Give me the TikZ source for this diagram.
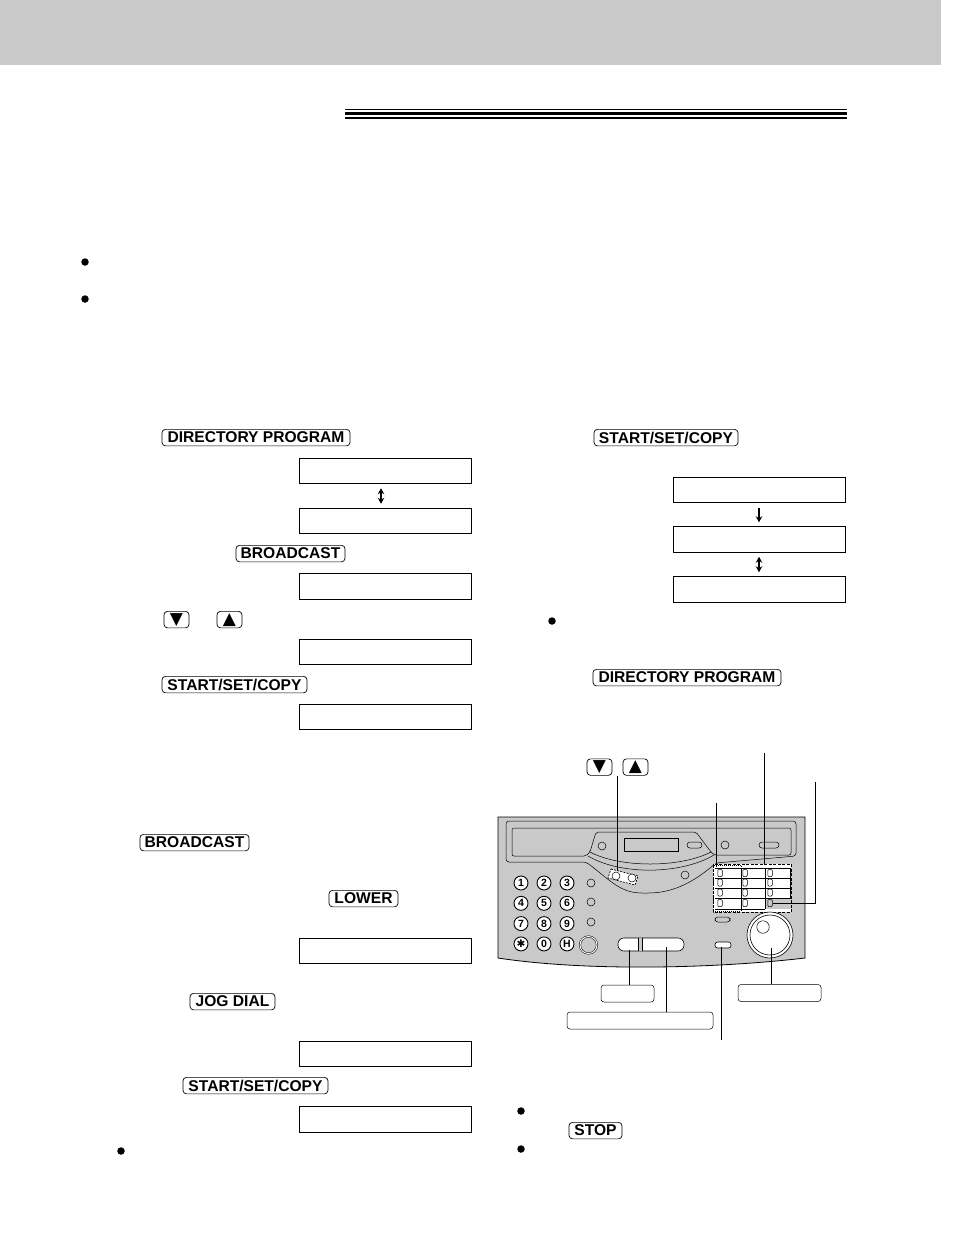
\documentclass[tikz,border=0pt]{standalone}
\usepackage{fontspec}
\setmainfont{Liberation Sans}
\newfontfamily\symfont{DejaVu Sans}
\usetikzlibrary{arrows.meta}
\definecolor{panelgray}{gray}{0.79}
\tikzset{
   keycap/.style={draw, rounded corners=3.5pt, line width=0.7pt, fill=white, inner sep=0pt, minimum height=16.5pt, yshift=-0.6pt,
      font=\fontsize{15.6}{16}\selectfont\bfseries},
   arrowcap/.style={keycap, minimum width=25pt, font=\fontsize{17}{17}\selectfont\symfont},
   lcd/.style={draw, line width=1pt, fill=white, minimum width=172pt, minimum height=25.5pt, inner sep=0pt},
   labelbox/.style={draw, rounded corners=3pt, line width=0.5pt, fill=white, inner sep=0pt, minimum height=17pt},
   bulletdot/.style={circle, fill=black, inner sep=0pt, minimum size=7.5pt},
   dialkey/.style={circle, draw, fill=white, line width=0.9pt, inner sep=0pt, minimum size=14pt,
      font=\fontsize{10.5}{10.5}\selectfont\bfseries},
   sidekey/.style={circle, draw, line width=0.5pt, inner sep=0pt, minimum size=8pt},
   cellkey/.style={draw, line width=0.5pt, rounded corners=1pt, inner sep=0pt, minimum width=4.5pt, minimum height=7pt},
   pill/.style={draw, rounded corners=3pt, line width=0.5pt},
   lead/.style={line width=0.8pt},
   updown/.style={line width=1.3pt, {Stealth[length=6pt,width=6.5pt]}-{Stealth[length=6pt,width=6.5pt]}},
   onedown/.style={line width=1.3pt, -{Stealth[length=6pt,width=6.5pt]}}
}
\begin{document}
\begin{tikzpicture}[x=1pt,y=-1pt]
\useasboundingbox (0,0) rectangle (954,1235);
% page band and rule
\fill[panelgray] (0,0) rectangle (941,65);
\fill (345,109) rectangle (847,110.2);
\fill (345,112) rectangle (847,115);
\fill (345,117) rectangle (847,119);
% bullets
\foreach \nm/\px/\py in {a/85/262, b/85/299, c/121/1151, d/552/621, e/521/1111, f/521/1149}
   \node[bulletdot] (bul\nm) at (\px,\py) {};
% keys in the text
\node[keycap, minimum width=188pt] (dirkeyA) at (256,437) {DIRECTORY PROGRAM};
\node[keycap, minimum width=109pt] (bcastA) at (290.5,553) {BROADCAST};
\node[arrowcap] (downA) at (176.5,619) {▼};
\node[arrowcap] (upA) at (229.5,619) {▲};
\node[keycap, minimum width=145pt] (startA) at (234.5,684) {START/SET/COPY};
\node[keycap, minimum width=109pt] (bcastB) at (194.5,842) {BROADCAST};
\node[keycap, minimum width=69pt] (lowerkey) at (363.5,898) {LOWER};
\node[keycap, minimum width=85pt] (jogkey) at (232.5,1001) {JOG DIAL};
\node[keycap, minimum width=145pt] (startB) at (255.5,1085) {START/SET/COPY};
\node[keycap, minimum width=144pt] (startC) at (666,437) {START/SET/COPY};
\node[keycap, minimum width=188pt] (dirkeyB) at (687,677) {DIRECTORY PROGRAM};
\node[keycap, minimum width=53pt] (stopkey) at (595.5,1130) {STOP};
% display boxes
\foreach \nm/\py in {A/471, B/521, C/586.5, D/652, E/717, F/951, G/1054, H/1119.5}
   \node[lcd] (lcd\nm) at (385,\py) {};
\foreach \nm/\py in {I/490, J/539.5, K/589.5}
   \node[lcd] (lcd\nm) at (759,\py) {};
\draw[updown, shorten <=4pt, shorten >=4pt] ([xshift=-4pt]lcdA.south) -- ([xshift=-4pt]lcdB.north);
\draw[onedown, shorten <=5pt, shorten >=4pt] (lcdI) -- (lcdJ);
\draw[updown, shorten <=4pt, shorten >=4pt] (lcdJ) -- (lcdK);
% fax panel
\draw[fill=panelgray, line width=0.8pt] (498,817) -- (805,817) -- (805,958)
   .. controls (720,968) and (590,972) .. (498,958) -- cycle;
\draw[line width=0.5pt, rounded corners=3pt] (506,821) -- (796,821) -- (796,856) -- (716,863)
   .. controls (690,885) and (670,893) .. (645,893) .. controls (620,893) and (610,880) .. (586,862)
   -- (506,862) -- cycle;
\draw[line width=0.5pt, rounded corners=2pt] (512,828) -- (791,828) -- (791,855) -- (714,855) -- (711,852)
   -- (696,832) -- (596,832) -- (590,852) -- (586,856) -- (512,856) -- cycle;
\draw[line width=0.5pt] (590,852) .. controls (620,868) and (680,868) .. (711,852);
\draw[line width=0.5pt] (588,856) .. controls (620,875) and (680,875) .. (714,855);
\draw[line width=0.5pt] (624,838) rectangle (678,851);
\draw[pill] (687,842) rectangle (702,848);
\draw[pill] (759,842) rectangle (779,848);
\foreach \nm/\px/\py in {a/602/846, b/725/845, c/685/875, d/591/883, e/591/902, f/591/922}
   \node[sidekey] (side\nm) at (\px,\py) {};
% arrow pad
\draw[fill=white, line width=0.7pt, dash pattern=on 2pt off 1.2pt] (611,869) -- (638,876) -- (635,885) -- (608,878) -- cycle;
\node[sidekey, fill=white] (padA) at (616,876) {};
\node[sidekey, fill=white] (padB) at (632,878) {};
% dial keys
\foreach \lab [count=\i] in {1,2,3,4,5,6,7,8,9,{\symfont✱},0,H} {
   \pgfmathtruncatemacro{\col}{mod(\i-1,3)}
   \pgfmathtruncatemacro{\row}{int((\i-1)/3)}
   \node[dialkey] (dial\i) at (521+23*\col,883+20.3*\row) {\lab};
}
\node[circle, draw, double, double distance=1pt, line width=0.5pt, inner sep=0pt, minimum size=17pt] (redial) at (588.5,945) {};
% one touch keys
\fill[white] (713,864) rectangle (791,912);
\fill[panelgray] (765,898) rectangle (791,909);
\draw[line width=0.5pt] (715,868) -- (790,868) (715,878) -- (790,878) (715,888) -- (790,888) (715,898) -- (790,898) (715,909) -- (765,909);
\draw[line width=0.5pt] (741,868) -- (741,909) (765,868) -- (765,909) (790,868) -- (790,898);
\foreach \row in {873,882.5,892.5,903}
   \foreach \col in {720,745,770}
      \node[cellkey] at (\col,\row) {};
\draw[line width=0.8pt, dash pattern=on 3pt off 1.5pt] (713,864) rectangle (791,912);
\draw[line width=0.8pt, dash pattern=on 1pt off 1pt] (713,865) rectangle (741,911);
\draw[line width=0.8pt, dash pattern=on 3pt off 1.5pt] (765,909) -- (765,898) -- (791,898);
% lower buttons
\draw[fill=white, rounded corners=6pt, line width=0.6pt] (618,938) rectangle (684,951);
\fill[panelgray] (638.5,938) rectangle (642.5,951);
\draw[line width=0.5pt] (638.5,938) -- (638.5,951) (642.5,938) -- (642.5,951);
\draw[fill=white, rounded corners=2.5pt, line width=0.6pt] (715,942) rectangle (731,948);
\draw[pill] (715,917) rectangle (730,922);
\node[circle, draw, fill=white, line width=0.6pt, inner sep=0pt, minimum size=46pt] (dialout) at (770,935) {};
\node[circle, draw, fill=white, line width=0.6pt, inner sep=0pt, minimum size=40pt] (dialin) at (770,935) {};
\node[circle, draw, line width=0.5pt, inner sep=0pt, minimum size=12.5pt] (dialknob) at (763,927) {};
% callouts
\node[labelbox, minimum width=53pt] (boxhelp) at (627.5,993.5) {};
\node[labelbox, minimum width=146pt] (boxmono) at (640,1020.5) {};
\node[labelbox, minimum width=83pt] (boxjog) at (779.5,993) {};
\coordinate (tipA) at (617.5,776);
\coordinate (tipB) at (617.5,871);
\coordinate (tipC) at (764,753);
\coordinate (tipD) at (764,864);
\coordinate (tipE) at (716,803);
\coordinate (tipF) at (716,867);
\coordinate (tipG) at (815,782);
\coordinate (tipH) at (815,903.5);
\coordinate (tipI) at (773,903.5);
\coordinate (tipJ) at (721,947);
\coordinate (tipK) at (721,1040);
\draw[lead] (tipA) -- (tipB);
\draw[lead] (tipC) -- (tipD);
\draw[lead] (tipE) -- (tipF);
\draw[lead] (tipG) -- (tipH) -- (tipI);
\draw[lead] (tipJ) -- (tipK);
\draw[lead] (629,950) -- (boxhelp.north -| 629,0);
\draw[lead] (666,947) -- (boxmono.north -| 666,0);
\draw[lead] (771,948) -- (boxjog.north -| 771,0);
% arrow keys of the panel
\node[arrowcap] (downB) at (599.5,766.5) {▼};
\node[arrowcap] (upB) at (635.5,766.5) {▲};
\end{tikzpicture}
\end{document}
